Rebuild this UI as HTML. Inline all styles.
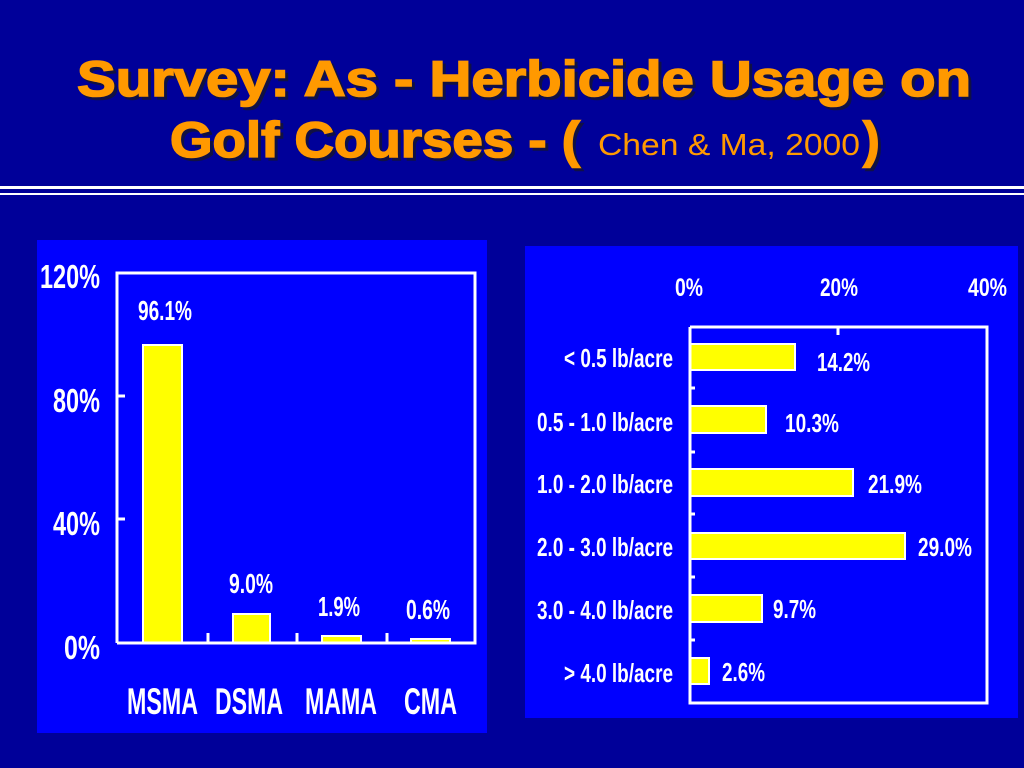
<!DOCTYPE html>
<html><head><meta charset="utf-8"><style>
html,body{margin:0;padding:0;background:#000099;}
svg{display:block}
text{font-family:"Liberation Sans Narrow","Liberation Sans",sans-serif;font-weight:bold;fill:#fff;}
.t{font-family:"Liberation Sans",sans-serif;font-weight:900;fill:#ff9900;stroke:#ff9900;stroke-width:1.6;}
.s{font-family:"Liberation Sans",sans-serif;font-weight:900;fill:#111144;stroke:#111144;stroke-width:1.6;}
</style></head><body>
<svg width="1024" height="768" viewBox="0 0 1024 768" xmlns="http://www.w3.org/2000/svg">
<rect width="1024" height="768" fill="#000099"/>
<text class="s" x="80" y="99" font-size="50" textLength="894" lengthAdjust="spacingAndGlyphs">Survey: As - Herbicide Usage on</text>
<text class="t" x="77" y="96" font-size="50" textLength="894" lengthAdjust="spacingAndGlyphs">Survey: As - Herbicide Usage on</text>
<text class="s" x="173" y="160" font-size="50" textLength="410" lengthAdjust="spacingAndGlyphs">Golf Courses - (</text>
<text class="t" x="170" y="157" font-size="50" textLength="410" lengthAdjust="spacingAndGlyphs">Golf Courses - (</text>
<text x="598" y="155" font-size="31" style="font-family:'Liberation Sans',sans-serif;font-weight:normal;fill:#ff9900" textLength="262" lengthAdjust="spacingAndGlyphs">Chen &amp; Ma, 2000</text>
<text class="s" x="866" y="160" font-size="50">)</text>
<text class="t" x="863" y="157" font-size="50">)</text>
<rect x="0" y="186" width="1024" height="3" fill="#fff"/>
<rect x="0" y="193" width="1024" height="2" fill="#fff"/>

<!-- left panel -->
<rect x="37" y="240" width="450" height="493" fill="#0000ff"/>
<g fill="#ffff00" stroke="#fff" stroke-width="2">
<rect x="143" y="345" width="39" height="298"/>
<rect x="233" y="614" width="37" height="29"/>
<rect x="322" y="636" width="39" height="7"/>
<rect x="411" y="639" width="39" height="4"/>
</g>
<g stroke="#fff" stroke-width="3" fill="none">
<polyline points="117,643 117,273 475,273 475,643 117,643"/>
<line x1="117" y1="396" x2="125" y2="396"/>
<line x1="117" y1="519" x2="125" y2="519"/>
<line x1="208" y1="643" x2="208" y2="633"/>
<line x1="297" y1="643" x2="297" y2="633"/>
<line x1="387" y1="643" x2="387" y2="633"/>
</g>
<g font-size="33" text-anchor="end">
<text x="100" y="288" textLength="60" lengthAdjust="spacingAndGlyphs">120%</text>
<text x="100" y="412" textLength="47" lengthAdjust="spacingAndGlyphs">80%</text>
<text x="100" y="535" textLength="47" lengthAdjust="spacingAndGlyphs">40%</text>
<text x="100" y="659" textLength="36" lengthAdjust="spacingAndGlyphs">0%</text>
</g>
<g font-size="28">
<text x="138" y="320" textLength="54" lengthAdjust="spacingAndGlyphs">96.1%</text>
<text x="229" y="593" textLength="44" lengthAdjust="spacingAndGlyphs">9.0%</text>
<text x="318" y="616" textLength="42" lengthAdjust="spacingAndGlyphs">1.9%</text>
<text x="406" y="619" textLength="44" lengthAdjust="spacingAndGlyphs">0.6%</text>
</g>
<g font-size="37">
<text x="127" y="714" textLength="71" lengthAdjust="spacingAndGlyphs">MSMA</text>
<text x="215" y="714" textLength="68" lengthAdjust="spacingAndGlyphs">DSMA</text>
<text x="305" y="714" textLength="72" lengthAdjust="spacingAndGlyphs">MAMA</text>
<text x="404" y="714" textLength="53" lengthAdjust="spacingAndGlyphs">CMA</text>
</g>

<!-- right panel -->
<rect x="525" y="246" width="493" height="472" fill="#0000ff"/>
<g fill="#ffff00" stroke="#fff" stroke-width="2">
<rect x="690" y="344" width="105" height="26"/>
<rect x="690" y="406" width="76" height="27"/>
<rect x="690" y="469" width="163" height="27"/>
<rect x="690" y="533" width="215" height="26"/>
<rect x="690" y="595" width="72" height="27"/>
<rect x="690" y="658" width="19" height="26"/>
</g>
<g stroke="#fff" stroke-width="3" fill="none">
<polyline points="690,327 987,327 987,703 690,703 690,327"/>
<line x1="838" y1="327" x2="838" y2="335"/>
<line x1="690" y1="388" x2="695" y2="388"/>
<line x1="690" y1="452" x2="695" y2="452"/>
<line x1="690" y1="514" x2="695" y2="514"/>
<line x1="690" y1="577" x2="695" y2="577"/>
<line x1="690" y1="640" x2="695" y2="640"/>
</g>
<g font-size="25">
<text x="675" y="296" textLength="28" lengthAdjust="spacingAndGlyphs">0%</text>
<text x="820" y="296" textLength="38" lengthAdjust="spacingAndGlyphs">20%</text>
<text x="968" y="296" textLength="39" lengthAdjust="spacingAndGlyphs">40%</text>
</g>
<g font-size="26" text-anchor="end">
<text x="673" y="367" textLength="109" lengthAdjust="spacingAndGlyphs">&lt; 0.5 lb/acre</text>
<text x="673" y="431" textLength="136" lengthAdjust="spacingAndGlyphs">0.5 - 1.0 lb/acre</text>
<text x="673" y="493" textLength="136" lengthAdjust="spacingAndGlyphs">1.0 - 2.0 lb/acre</text>
<text x="673" y="556" textLength="136" lengthAdjust="spacingAndGlyphs">2.0 - 3.0 lb/acre</text>
<text x="673" y="619" textLength="136" lengthAdjust="spacingAndGlyphs">3.0 - 4.0 lb/acre</text>
<text x="673" y="682" textLength="109" lengthAdjust="spacingAndGlyphs">&gt; 4.0 lb/acre</text>
</g>
<g font-size="26">
<text x="817" y="371" textLength="53" lengthAdjust="spacingAndGlyphs">14.2%</text>
<text x="785" y="432" textLength="54" lengthAdjust="spacingAndGlyphs">10.3%</text>
<text x="868" y="493" textLength="54" lengthAdjust="spacingAndGlyphs">21.9%</text>
<text x="918" y="556" textLength="54" lengthAdjust="spacingAndGlyphs">29.0%</text>
<text x="773" y="618" textLength="43" lengthAdjust="spacingAndGlyphs">9.7%</text>
<text x="722" y="681" textLength="43" lengthAdjust="spacingAndGlyphs">2.6%</text>
</g>
</svg>
</body></html>
